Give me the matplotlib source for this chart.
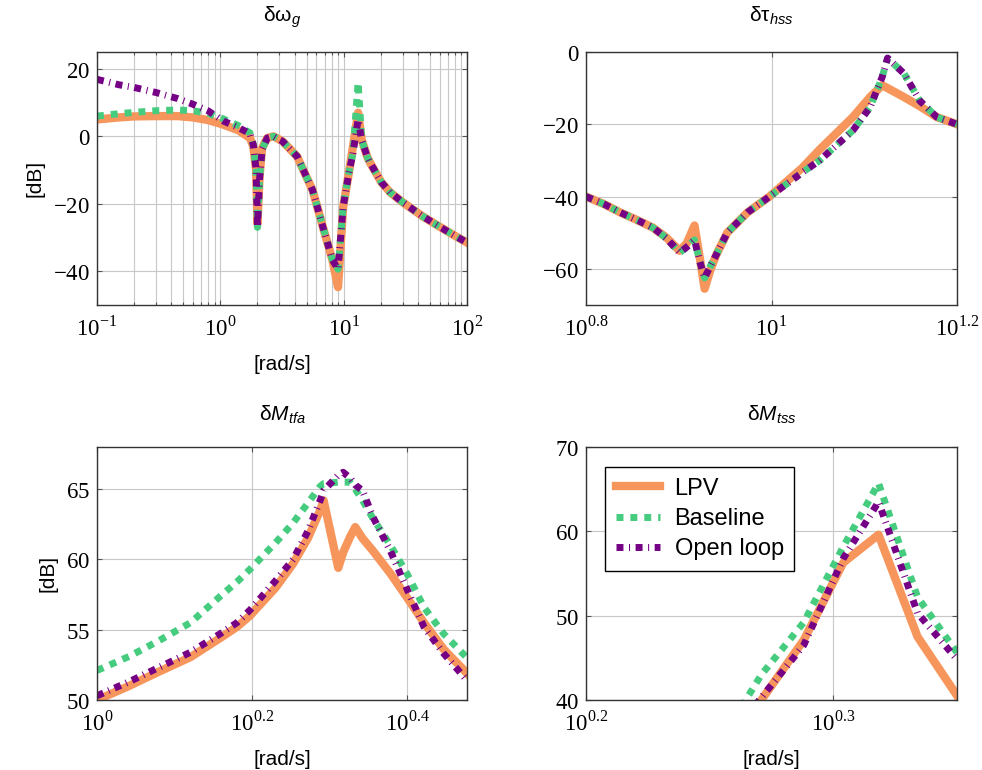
import numpy as np
import matplotlib
matplotlib.use('Agg')
import matplotlib.pyplot as plt
from matplotlib.ticker import FixedLocator, FixedFormatter, NullLocator, LogLocator

plt.rcParams['font.family'] = ['Liberation Sans', 'DejaVu Sans']
plt.rcParams['mathtext.fontset'] = 'custom'
plt.rcParams['mathtext.rm'] = 'Liberation Serif'
plt.rcParams['mathtext.it'] = 'Liberation Sans:italic'

c_lpv = '#F7965C'
c_base = '#45CC7F'
c_open = '#760085'

# ---- delta omega_g (top left)
f_wg = [0.1, 0.15, 0.2, 0.3, 0.45, 0.6, 0.8, 1.05, 1.4, 1.74, 1.85, 1.95, 2.0, 2.08, 2.18,
        2.4, 2.7, 3.2, 4.2, 5.6, 6.8, 8.1, 9.0, 9.9, 11.0, 11.9, 13.1, 14.0, 15.5,
        16.3, 20.2, 23.8, 30, 43.6, 60, 80, 100]
lpv_wg = [5, 5.6, 5.9, 6.0, 6.0, 5.6, 4.8, 3.5, 1.8, -0.5, -3, -10, -26, -12, -3.5,
          -0.5, 0, -1.5, -6, -16, -27, -36.6, -44.7, -21, -11, -3, 7, -1, -6,
          -7.7, -13.6, -16.6, -19.5, -23.7, -26.8, -29.5, -31.5]
base_wg = [6, 6.7, 7.1, 7.6, 7.8, 7.6, 6.8, 5.2, 3.2, 1.0, -2.5, -10, -27, -12.7, -3.9,
           -0.5, 0, -1.5, -6, -16, -27, -36.6, -39.4, -21, -11, -5, 16, -1, -6,
           -7.7, -13.6, -16.6, -19.5, -23.7, -26.8, -29.5, -31.5]
open_wg = [16.9, 15.3, 14.5, 13.0, 11.2, 9.5, 7.5, 4.6, 2.6, 0.8, -2.5, -10, -27, -12.7, -3.9,
           -0.5, 0, -1.5, -6, -16, -27, -36.6, -39.4, -21, -11, -5, 5, -1, -6,
           -7.7, -13.6, -16.6, -19.5, -23.7, -26.8, -29.5, -31.5]

# ---- delta tau_hss (top right)
f_hss = [6.31, 6.6, 6.87, 7.15, 7.45, 7.7, 7.96, 8.1, 8.26, 8.37, 8.47, 8.6, 8.73, 8.96,
         9.42, 9.95, 10.8, 11.27, 12.24, 12.77, 13.16, 13.34, 13.9, 14.45, 15.07, 15.85]
lpv_hss = [-40, -42.1, -44.4, -46.4, -48.6, -51.3, -55, -53, -48, -57, -65.5, -60, -55.8,
           -50, -44.4, -40, -32, -27, -18, -12.5, -9.2, -10, -12.5, -15, -18, -20]
base_hss = [-40, -42.1, -44.4, -46.4, -48.6, -51.5, -55.5, -54, -52, -58, -62.5, -59,
            -55.8, -50, -44.4, -40, -33.3, -30, -21.7, -15.3, -7, -1.7, -6, -13.5, -18, -20]
open_hss = [-40, -42.1, -44.4, -46.4, -48.6, -51.5, -55.5, -54, -52, -58, -62.5, -59,
            -55.8, -50, -44.4, -40, -33.3, -30, -21.7, -15.3, -7, -1.7, -6, -13.5, -18, -20]

# ---- delta M_tfa (bottom left)
f_tfa = [1.0, 1.1, 1.2, 1.32, 1.45, 1.515, 1.575, 1.7, 1.79, 1.87, 1.94, 1.96, 2.047,
         2.077, 2.12, 2.153, 2.2, 2.27, 2.39, 2.51, 2.64, 2.8, 3.0]
lpv_tfa = [50, 51.0, 52.0, 53.05, 54.5, 55.2, 56.0, 58.0, 59.7, 61.5, 63.5, 64.2, 59.4,
           60.5, 61.6, 62.3, 61.5, 60.6, 59.0, 57.3, 55.5, 53.6, 51.9]
base_tfa = [52.1, 53.1, 54.2, 55.5, 57.5, 58.4, 59.3, 61.2, 62.6, 64.0, 65.2, 65.4, 65.5,
            65.5, 65.5, 65.0, 64.2, 62.9, 61.0, 59.0, 56.6, 54.7, 53.0]
open_tfa = [50.3, 51.3, 52.3, 53.4, 54.8, 55.5, 56.4, 58.5, 60.0, 62.0, 64.2, 64.9, 66.0,
            66.2, 65.8, 65.3, 64.9, 63.0, 60.6, 57.9, 55.2, 53.3, 51.4]

# ---- delta M_tss (bottom right)
f_tss = [1.795, 1.866, 1.941, 2.014, 2.081, 2.158, 2.239]
lpv_tss = [33, 40, 47.1, 56.3, 59.6, 47.5, 40.5]
base_tss = [35, 43, 49.2, 58.2, 65.7, 52.2, 45.6]
open_tss = [34, 40.3, 46.5, 56.8, 63.5, 50.3, 44.8]

fig = plt.figure(figsize=(9.82, 7.70), dpi=100)
W, H = 982, 770


def mk_axes(l, t, r, b):
    return fig.add_axes([l / W, 1 - b / H, (r - l) / W, (b - t) / H])


def style(ax, xt, xl, yt, xlim, ylim, minor=False):
    ax.set_xscale('log')
    ax.set_xlim(xlim)
    ax.set_ylim(ylim)
    ax.xaxis.set_major_locator(FixedLocator(xt))
    ax.xaxis.set_major_formatter(FixedFormatter(xl))
    if minor:
        ax.xaxis.set_minor_locator(LogLocator(base=10, subs=np.arange(2, 10)))
    else:
        ax.xaxis.set_minor_locator(NullLocator())
    ax.xaxis.set_minor_formatter(plt.NullFormatter())
    ax.yaxis.set_major_locator(FixedLocator(yt))
    ax.yaxis.set_major_formatter(FixedFormatter(['$%g$' % v for v in yt]))
    ax.tick_params(which='both', direction='in', top=True, right=True,
                   length=3.5, width=0.8, color='#555555', labelsize=16.5)
    ax.tick_params(axis='x', pad=8)
    ax.tick_params(axis='y', pad=5)
    ax.tick_params(which='minor', length=2.5)
    ax.grid(True, which='both', color='#c8c8c8', lw=0.8)
    ax.set_axisbelow(True)
    for s in ax.spines.values():
        s.set_color('#333333')
        s.set_linewidth(1.0)


def draw(ax, f, a, b, c):
    ax.plot(f, a, color=c_lpv, lw=6, solid_joinstyle='round', label='LPV')
    ax.plot(f, b, color=c_base, lw=5, ls=(0, (1, 1)), label='Baseline')
    ax.plot(f, c, color=c_open, lw=5, ls=(0, (1, 0.8, 0.15, 0.8)), label='Open loop')


ax1 = mk_axes(97, 52, 467, 305)
draw(ax1, f_wg, lpv_wg, base_wg, open_wg)
style(ax1, [0.1, 1, 10, 100], ['$10^{-1}$', '$10^{0}$', '$10^{1}$', '$10^{2}$'],
      [-40, -20, 0, 20], (0.1, 100), (-50, 25), minor=True)
ax1.set_title('δω$_g$', fontsize=15, pad=22)
ax1.set_ylabel('[dB]', fontsize=15, labelpad=6)
ax1.set_xlabel('[rad/s]', fontsize=15, labelpad=10)

ax2 = mk_axes(586, 52, 957, 305)
draw(ax2, f_hss, lpv_hss, base_hss, open_hss)
style(ax2, [10 ** 0.8, 10, 10 ** 1.2], ['$10^{0.8}$', '$10^{1}$', '$10^{1.2}$'],
      [-60, -40, -20, 0], (10 ** 0.8, 10 ** 1.2), (-70, 0))
ax2.set_title('δτ$_{hss}$', fontsize=15, pad=22)

ax3 = mk_axes(97, 447, 467, 700)
draw(ax3, f_tfa, lpv_tfa, base_tfa, open_tfa)
style(ax3, [1, 10 ** 0.2, 10 ** 0.4], ['$10^{0}$', '$10^{0.2}$', '$10^{0.4}$'],
      [50, 55, 60, 65], (1, 3.0), (50, 68))
ax3.set_title('δ$M_{tfa}$', fontsize=15, pad=19)
ax3.set_ylabel('[dB]', fontsize=15, labelpad=6)
ax3.set_xlabel('[rad/s]', fontsize=15, labelpad=10)

ax4 = mk_axes(586, 447, 957, 700)
draw(ax4, f_tss, lpv_tss, base_tss, open_tss)
style(ax4, [10 ** 0.2, 10 ** 0.3], ['$10^{0.2}$', '$10^{0.3}$'],
      [40, 50, 60, 70], (10 ** 0.2, 10 ** 0.35), (40, 70))
ax4.set_title('δ$M_{tss}$', fontsize=15, pad=19)
ax4.set_xlabel('[rad/s]', fontsize=15, labelpad=10)
leg = ax4.legend(loc='upper left', bbox_to_anchor=(0.051, 0.921), borderaxespad=0,
                 fontsize=17, fancybox=False, framealpha=1, edgecolor='black',
                 handlelength=1.9, handletextpad=0.6, borderpad=0.45, labelspacing=0.35)
leg.get_frame().set_linewidth(1.0)

fig.savefig('out.png', dpi=100)
